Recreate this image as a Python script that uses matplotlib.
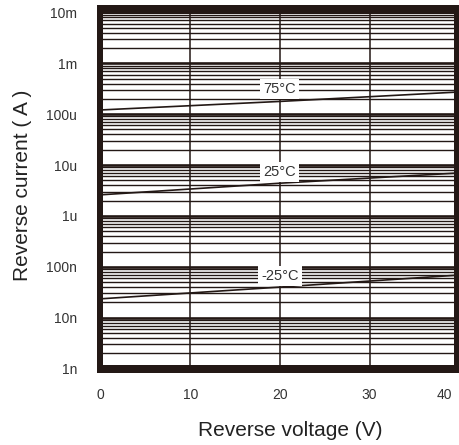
import numpy as np
from matplotlib import pyplot as plt
from matplotlib.patches import Rectangle
from matplotlib.ticker import LogLocator, NullFormatter
from matplotlib.transforms import ScaledTranslation

# values
volts = [0, 20, 40]
i_75 = [1.21e-4, 1.78e-4, 2.73e-4]
i_25 = [2.6e-6, 4.4e-6, 7.0e-6]
i_m25 = [2.35e-8, 4.0e-8, 6.9e-8]
curve_labels = ['75°C', '25°C', '-25°C']
label_pos = [3.1e-4, 7.3e-6, 6.6e-8]

ytick_vals = [1e-9, 1e-8, 1e-7, 1e-6, 1e-5, 1e-4, 1e-3, 1e-2]
ytick_text = ['1n', '10n', '100n', '1u', '10u', '100u', '1m', '10m']
xtick_vals = [0, 10, 20, 30, 40]

ink = '#231815'
plt.rcParams['font.family'] = ['Liberation Sans', 'DejaVu Sans']

W, H = 459, 445
fig = plt.figure(figsize=(W/100, H/100), dpi=100)
ax = fig.add_axes([100.6/W, 1 - 368.6/H, 358.6/W, 356.2/H])
ax.set_yscale('log')
ax.set_xlim(0, 40)
ax.set_ylim(1e-9, 1e-2)
for s in ax.spines.values():
    s.set_visible(False)

ax.set_yticks(ytick_vals)
ax.set_yticklabels(ytick_text, fontsize=10, color='#333333')
ax.yaxis.set_minor_locator(LogLocator(base=10, subs=np.arange(2, 10), numticks=20))
ax.yaxis.set_minor_formatter(NullFormatter())
ax.set_xticks(xtick_vals)
ax.set_xticklabels([str(v) for v in xtick_vals], fontsize=10, color='#333333')
ax.tick_params(which='both', length=0)
ax.tick_params(axis='y', pad=17)
ax.tick_params(axis='x', pad=14)
# last label is pulled inside the picture like in the original
lt = ax.xaxis.get_major_ticks()[-1].label1
lt.set_transform(lt.get_transform() + ScaledTranslation(-11/72, 0, fig.dpi_scale_trans))

ax.grid(which='major', axis='y', color=ink, lw=1.9)
ax.grid(which='minor', axis='y', color=ink, lw=1.0)
ax.grid(which='major', axis='x', color=ink, lw=1.1)
ax.set_axisbelow(True)

for vals in [i_75, i_25, i_m25]:
    ax.plot(volts, vals, color=ink, lw=1.2, zorder=3)

for txt, yv in zip(curve_labels, label_pos):
    ax.text(20, yv, txt, ha='center', va='center', fontsize=10.5,
            color='#333333', zorder=4,
            bbox=dict(boxstyle='square,pad=0.22', fc='white', ec='none'))

# thick frame around the plot
def px_rect(x0, y0, x1, y1):
    fig.add_artist(Rectangle((x0/W, 1 - y1/H), (x1 - x0)/W, (y1 - y0)/H,
                             transform=fig.transFigure, fc=ink, ec='none', zorder=5))

px_rect(97, 5, 462, 14)
px_rect(97, 365, 462, 373)
px_rect(97, 5, 103, 373)
px_rect(454, 5, 462, 373)

fig.text(290/W, 1 - 430/H, 'Reverse voltage (V)', ha='center', va='center', fontsize=15, color='#222222')
fig.text(23/W, 1 - 185/H, 'Reverse current ( A )', ha='center', va='center', rotation=90,
         fontsize=15, color='#222222')

fig.savefig('out.png', dpi=100)
